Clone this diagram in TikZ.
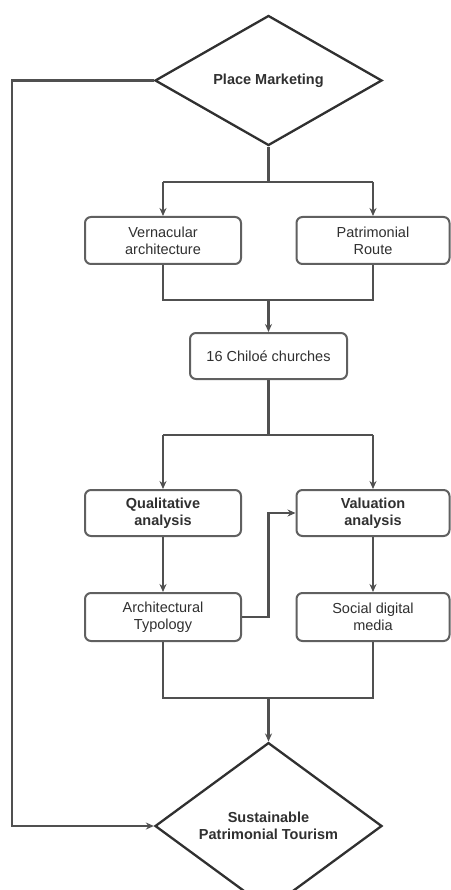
\documentclass[tikz,border=0pt]{standalone}
\usepackage{fontspec}
\setmainfont{Liberation Sans}
\usetikzlibrary{shapes.geometric,arrows.meta}
\definecolor{lineC}{HTML}{505050}
\definecolor{boxC}{HTML}{606060}
\definecolor{txtC}{HTML}{303030}
\tikzset{
  x=1pt,y=1pt,
  flowline/.style={draw=lineC,line width=2.1pt},
  arr/.style={flowline,-{Stealth[length=8pt,width=7pt]}},
  decision/.style={diamond,draw=txtC,line width=2.3pt,minimum width=227pt,minimum height=130pt,inner sep=0pt,align=center,text=txtC,font=\fontsize{14.5}{17}\selectfont\bfseries},
  procbox/.style={rectangle,rounded corners=6pt,draw=boxC,line width=2pt,minimum width=156pt,minimum height=47pt,inner sep=2pt,align=center,text=txtC,font=\fontsize{14.5}{17}\selectfont},
  boldbox/.style={procbox,font=\fontsize{14.5}{17}\selectfont\bfseries}
}
\begin{document}
\begin{tikzpicture}
\useasboundingbox[fill=white] (0,0) rectangle (450,-890);
\node[decision] (pm) at (268.5,-80.5) {Place Marketing};
\node[procbox] (vern) at (163,-240.5) {Vernacular\\architecture};
\node[procbox,minimum width=153pt] (patr) at (373,-240.5) {Patrimonial\\Route};
\node[procbox,minimum width=157pt,minimum height=46pt] (chil) at (268.5,-356) {16 Chiloé churches};
\node[boldbox,minimum height=46pt] (qual) at (163,-513) {Qualitative\\analysis};
\node[boldbox,minimum width=153pt,minimum height=46pt] (val) at (373,-513) {Valuation\\analysis};
\node[procbox,minimum height=48pt] (arch) at (163,-617) {Architectural\\Typology};
\node[procbox,minimum width=153pt,minimum height=48pt] (soc) at (373,-617) {Social digital\\media};
\node[decision] (spt) at (268.5,-826) {Sustainable\\Patrimonial Tourism};

\coordinate (s1) at (268.5,-182);
\coordinate (s1l) at (163,-182);
\coordinate (s1r) at (373,-182);
\coordinate (m1) at (268.5,-300);
\coordinate (s2) at (268.5,-435);
\coordinate (s2l) at (163,-435);
\coordinate (s2r) at (373,-435);
\coordinate (ty) at (268.5,-617);
\coordinate (m2) at (268.5,-698);
\coordinate (lx) at (12,-80.5);

\draw[flowline] (pm.south) -- (s1);
\draw[flowline] (s1l) -- (s1r);
\draw[arr] (s1l) -- (vern.north);
\draw[arr] (s1r) -- (patr.north);

\draw[flowline] (vern.south) |- (m1) -| (patr.south);
\draw[arr] (m1) -- (chil.north);

\draw[flowline] (chil.south) -- (s2);
\draw[flowline] (s2l) -- (s2r);
\draw[arr] (s2l) -- (qual.north);
\draw[arr] (s2r) -- (val.north);

\draw[arr] (qual.south) -- (arch.north);
\draw[arr] (val.south) -- (soc.north);

\draw[arr] (arch.east) -- (ty) |- (val.west);

\draw[flowline] (arch.south) |- (m2) -| (soc.south);
\draw[arr] (m2) -- (spt.north);

\draw[arr] (pm.west) -- (lx) |- (spt.west);
\end{tikzpicture}
\end{document}
